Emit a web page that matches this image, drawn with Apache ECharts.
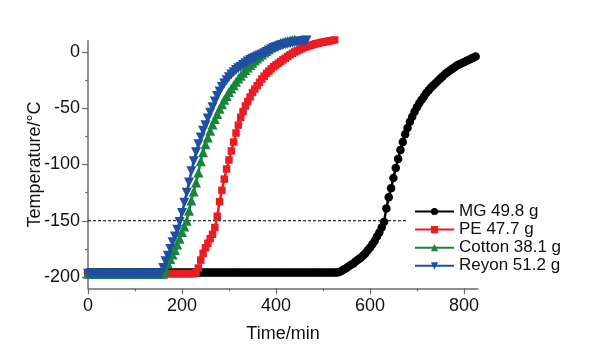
<!DOCTYPE html>
<html><head><meta charset="utf-8">
<script src="https://cdn.jsdelivr.net/npm/echarts@6/dist/echarts.min.js"></script>
<style>html,body{margin:0;padding:0;background:#fff}#c{width:596px;height:360px}</style>
</head><body><div id="c"></div>
<script>
// sampling times (min), one reading every 5 min
const time = [
0,5,10,15,20,25,30,35,40,45,50,55,60,65,70,75,80,85,90,95,
100,105,110,115,120,125,130,135,140,145,150,155,160,165,170,175,180,185,190,195,
200,205,210,215,220,225,230,235,240,245,250,255,260,265,270,275,280,285,290,295,
300,305,310,315,320,325,330,335,340,345,350,355,360,365,370,375,380,385,390,395,
400,405,410,415,420,425,430,435,440,445,450,455,460,465,470,475,480,485,490,495,
500,505,510,515,520,525,530,535,540,545,550,555,560,565,570,575,580,585,590,595,
600,605,610,615,620,625,630,635,640,645,650,655,660,665,670,675,680,685,690,695,
700,705,710,715,720,725,730,735,740,745,750,755,760,765,770,775,780,785,790,795,
800,805,810,815,820,825
];
const seriesNames = ['MG 49.8 g', 'PE 47.7 g', 'Cotton 38.1 g', 'Reyon 51.2 g'];
const mgTemp = [
-196,-196,-196,-196,-196,-196,-196,-196,-196,-196,
-196,-196,-196,-196,-196,-196,-196,-196,-196,-196,
-196,-196,-196,-196,-196,-196,-196,-196,-196,-196,
-196,-196,-196,-196,-196,-196,-196,-196,-196,-196,
-196,-196,-196,-196,-196,-196,-196,-196,-196,-196,
-196,-196,-196,-196,-196,-196,-196,-196,-196,-196,
-196,-196,-196,-196,-196,-196,-196,-196,-196,-196,
-196,-196,-196,-196,-196,-196,-196,-196,-196,-196,
-196,-196,-196,-196,-196,-196,-196,-196,-196,-196,
-196,-196,-196,-196,-196,-196,-196,-196,-196,-196,
-196,-196,-196,-196,-196,-196,
-196,-195.5,-194.5,-193,
-192,-190.5,-189,-188,-186,-184.5,-183,-181,-179,-176.5,
-174,-171,-168,-164,-160.5,-156,-151,-139,-129,-121,
-112,-103,-95,-87,-80,-73,-67.5,-62,-57.5,-53,
-49,-45.5,-42.5,-39.5,-36.5,-34,-31.5,-29.5,-27.5,-25.5,
-23.5,-21.5,-19.5,-18,-16.5,-15,-13.5,-12,-11,-10,
-9,-8,-7,-6,-5,-4
];
const peTemp = [
-197,-197,-197,-197,-197,-197,-197,-197,-197,-197,
-197,-197,-197,-197,-197,-197,-197,-197,-197,-197,
-197,-197,-197,-197,-197,-197,-197,-197,-197,-197,
-197,-197,-197,-197,-197,-197,-197,-197,-197,-197,
-197,-197,-197,-197,-197,-197,
-196,-192,-185,-179,
-174,-170,-166,-162,-156,-146,-133,-123,-113,-104,
-96,-88,-80,-72,-65,-58,-53,-48,-44,-40,
-36,-33,-30,-27,-24,-21.5,-19,-17,-15,-13,
-11.5,-10,-8.5,-7,-5.5,-4,-2.5,-1.2,0,1,
2,3,3.9,4.7,5.4,6.1,6.7,7.3,7.8,8.3,
8.7,9.1,9.5,9.9,10.3,10.7
];
const cottonTemp = [
-197,-197,-197,-197,-197,-197,-197,-197,-197,-197,
-197,-197,-197,-197,-197,-197,-197,-197,-197,-197,
-197,-197,-197,-197,-197,-197,-197,-197,-197,-197,
-197,-197,-197,
-193,-188,-184,-180,-176,-171,-166,
-160,-155,-150,-141,-132,-124,-116,-107,-97,-89,
-82,-76,-70,-64.5,-59.5,-55,-50.5,-46.5,-42.5,-39,
-35.5,-32.5,-29.5,-26.5,-23.5,-21,-18.5,-16,-13.8,-11.6,
-9.5,-7.6,-5.8,-4,-2.2,-0.5,1,2.5,4,5.2,
6.3,7.2,8,8.7,9.3,9.8,10.2,10.6,11
];
const reyonTemp = [
-197,-197,-197,-197,-197,-197,-197,-197,-197,-197,
-197,-197,-197,-197,-197,-197,-197,-197,-197,-197,
-197,-197,-197,-197,-197,-197,-197,-197,-197,-197,
-197,-197,
-192,-186,-181,-175,-169,-164,-158,-151,
-143,-134,-125,-116,-106,-97,-89,-82,-76,-70,
-65,-59,-54,-49,-44,-39,-35,-31,-28,-25,
-22.5,-20,-18,-16,-14.5,-13,-11.5,-10,-8.5,-7,
-6,-5,-4,-3,-2.2,-1,0,1.3,2.5,3.5,
4.3,5,5.7,6.3,6.9,7.4,7.8,8.2,8.6,9,
9.3,9.6,9.9,10.2
];
const refTemp = -150;          // dashed reference level
const refTimeRange = [0, 680]; // extent of the dashed line
const xTickValues = [0, 200, 400, 600, 800];
const yTickValues = [-200, -150, -100, -50, 0];

const F = 'Arial, "Liberation Sans", sans-serif';
const AX = '#6b6b6b';
function pts(vals){ return vals.map((v,i)=>[time[i], v]); }
const allTemps = [mgTemp, peTemp, cottonTemp, reyonTemp];
const looks = [
  {color:'#000000', symbol:'circle', size:8.5, rotate:0},
  {color:'#ec1c24', symbol:'rect', size:7.5, rotate:0},
  {color:'#18863a', symbol:'triangle', size:10, rotate:0},
  {color:'#1f4fa3', symbol:'triangle', size:10, rotate:180}
];
const series = [{
  type:'line', name:'ref', silent:true, symbol:'none', z:1,
  data: refTimeRange.map(t=>[t, refTemp]),
  lineStyle:{color:'#000', width:1, type:[3,2]}
}];
allTemps.forEach((vals,k)=>{
  const L = looks[k];
  series.push({
    type:'line', name:seriesNames[k], data:pts(vals), clip:false, z:2+k,
    symbol:L.symbol, symbolSize:L.size, symbolRotate:L.rotate, showAllSymbol:true,
    itemStyle:{color:L.color, borderWidth:0},
    lineStyle:{color:L.color, width:2.5}
  });
});
const chart = echarts.init(document.getElementById('c'), null, {renderer:'canvas'});
chart.setOption({
  animation:false,
  backgroundColor:'#fff',
  grid:{left:88, right:118, top:40.75, bottom:71.75},
  legend:{
    data:seriesNames, orient:'vertical', left:409, top:198, padding:5,
    itemWidth:39, itemHeight:9, itemGap:1.1, itemTextGap:3, selectedMode:false,
    textStyle:{fontFamily:F, fontSize:17, color:'#111', lineHeight:17}
  },
  xAxis:{
    type:'value', min:0, max:830, splitNumber:5,
    name:'Time/min', nameLocation:'middle', nameGap:37, nameMoveOverlap:false,
    nameTextStyle:{fontFamily:F, fontSize:18, color:'#111'},
    axisLine:{onZero:false, lineStyle:{color:AX, width:1.5}},
    axisTick:{customValues:xTickValues, length:6, lineStyle:{color:AX, width:1.2}},
    minorTick:{show:true, splitNumber:2, length:3, lineStyle:{color:AX, width:1.2}},
    axisLabel:{customValues:xTickValues, fontFamily:F, fontSize:18, color:'#111', margin:9},
    splitLine:{show:false}
  },
  yAxis:{
    type:'value', min:-210, max:10, splitNumber:5,
    name:'Temperature/°C', nameLocation:'middle', nameGap:44, nameRotate:90, nameMoveOverlap:false,
    nameTextStyle:{fontFamily:F, fontSize:18, color:'#111'},
    axisLine:{show:true, onZero:false, lineStyle:{color:AX, width:1.5}},
    axisTick:{show:true, customValues:yTickValues, length:6, lineStyle:{color:AX, width:1.2}},
    minorTick:{show:true, splitNumber:2, length:3, lineStyle:{color:AX, width:1.2}},
    axisLabel:{customValues:yTickValues, fontFamily:F, fontSize:18, color:'#111', margin:8},
    splitLine:{show:false}
  },
  series: series
});
</script></body></html>
